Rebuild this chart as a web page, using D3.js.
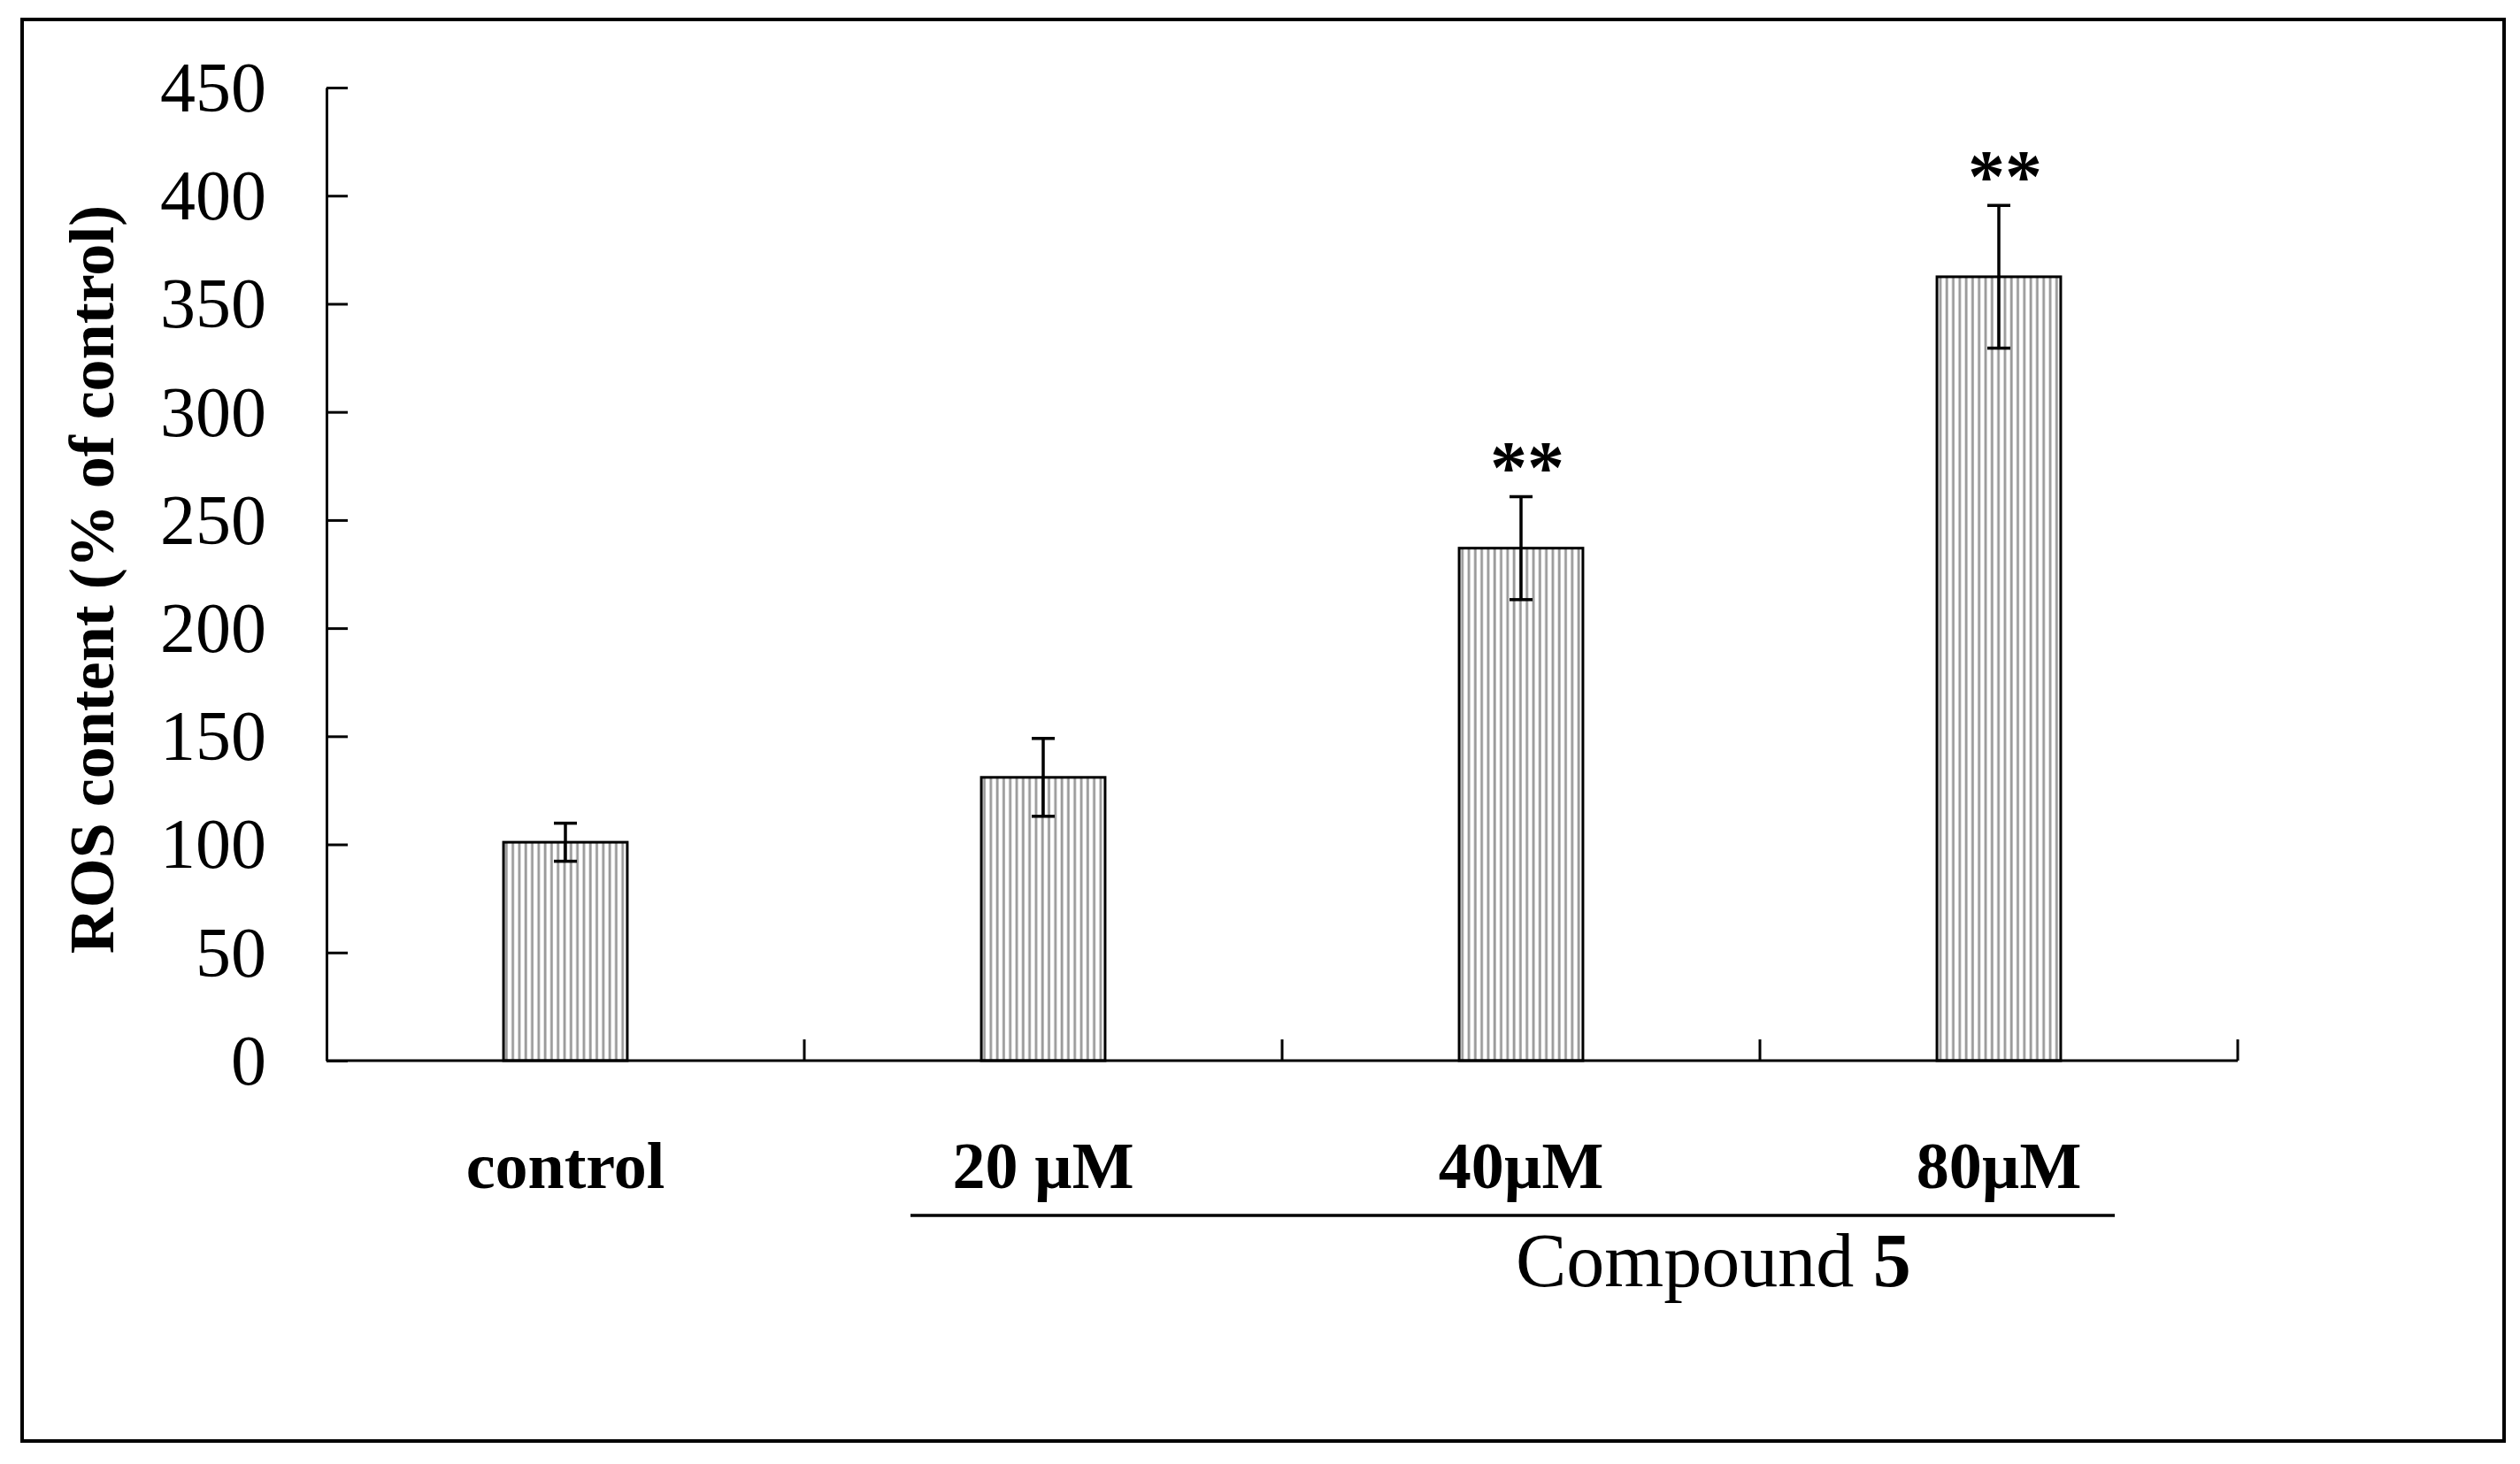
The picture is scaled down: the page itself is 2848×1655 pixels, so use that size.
<!DOCTYPE html>
<html>
<head>
<meta charset="utf-8">
<script src="https://cdn.jsdelivr.net/npm/d3@7"></script>
<style>
  html, body { margin: 0; padding: 0; background: #fff; }
  svg { display: block; }
</style>
</head>
<body>
<script>
// ---- data ----
const categories = ["control", "20 µM", "40µM", "80µM"];
const means      = [101, 131, 237, 362.5];
const errors     = [8.8, 18, 23.8, 33];
const signif     = ["", "", "**", "**"];
const yTicks     = [0, 50, 100, 150, 200, 250, 300, 350, 400, 450];
const yTitle     = "ROS content (% of control)";
const groupLabel = "Compound ";
const groupBold  = "5";
const groupFrom  = "20 µM";
const groupTo    = "80µM";

const W = 2848, H = 1655;
const svg = d3.select("body").append("svg").attr("width", W).attr("height", H);
svg.append("rect").attr("width", W).attr("height", H).attr("fill", "#fff");

// outer frame
svg.append("rect").attr("x", 25).attr("y", 22).attr("width", 2805).attr("height", 1607)
  .attr("fill", "none").attr("stroke", "#000").attr("stroke-width", 4);

// hatch pattern
const defs = svg.append("defs");
const pat = defs.append("pattern").attr("id", "vhatch").attr("patternUnits", "userSpaceOnUse")
  .attr("width", 7.3).attr("height", 10);
pat.append("rect").attr("width", 7.3).attr("height", 10).attr("fill", "#fff");
pat.append("rect").attr("x", 1.5).attr("width", 2.8).attr("height", 10).attr("fill", "#999");

const x0 = 369, x1 = 2529, yTop = 99, yBot = 1199;
const x = d3.scaleBand().domain(categories).range([x0, x1]).padding(0);
const y = d3.scaleLinear().domain([0, 450]).range([yBot, yTop]);
const barW = x.bandwidth() * 0.259;

// y axis
const yAxis = d3.axisLeft(y).tickValues(yTicks).tickSizeInner(-24).tickSizeOuter(0).tickPadding(68);
const gy = svg.append("g").attr("transform", `translate(${x0},0)`).call(yAxis);
gy.select(".domain").attr("stroke", "#000").attr("stroke-width", 3);
gy.selectAll(".tick line").attr("stroke", "#000").attr("stroke-width", 3);
gy.selectAll(".tick text")
  .attr("font-family", "'Liberation Serif', 'Times New Roman', serif")
  .attr("font-size", 80).attr("fill", "#000").attr("dy", "0.33em");

// bars
const data = categories.map((c, i) => ({ c, m: means[i], e: errors[i], s: signif[i] }));
svg.append("g").selectAll("rect").data(data).join("rect")
  .attr("x", d => x(d.c) + x.bandwidth() / 2 - barW / 2)
  .attr("y", d => y(d.m))
  .attr("width", barW)
  .attr("height", d => y(0) - y(d.m))
  .attr("fill", "url(#vhatch)")
  .attr("stroke", "#000").attr("stroke-width", 3);

// x axis line + boundary ticks (inward)
const xb = svg.append("g");
xb.append("line").attr("x1", x0).attr("x2", x1).attr("y1", y(0)).attr("y2", y(0))
  .attr("stroke", "#000").attr("stroke-width", 3);
const bounds = categories.slice(1).map(c => x(c)).concat([x.range()[1]]);
xb.selectAll("line.tk").data(bounds).join("line").attr("class", "tk")
  .attr("x1", d => d).attr("x2", d => d)
  .attr("y1", y(0)).attr("y2", y(0) - 24)
  .attr("stroke", "#000").attr("stroke-width", 3);

// error bars
const eg = svg.append("g").attr("stroke", "#000").attr("stroke-width", 3.5);
data.forEach(d => {
  const cx = x(d.c) + x.bandwidth() / 2;
  eg.append("line").attr("x1", cx).attr("x2", cx).attr("y1", y(d.m + d.e)).attr("y2", y(d.m - d.e));
  eg.append("line").attr("x1", cx - 13).attr("x2", cx + 13).attr("y1", y(d.m + d.e)).attr("y2", y(d.m + d.e));
  eg.append("line").attr("x1", cx - 13).attr("x2", cx + 13).attr("y1", y(d.m - d.e)).attr("y2", y(d.m - d.e));
});

// significance stars
svg.append("g").selectAll("text").data(data.filter(d => d.s)).join("text")
  .attr("x", d => x(d.c) + x.bandwidth() / 2 + 7)
  .attr("y", d => y(d.m + d.e) - 4)
  .attr("text-anchor", "middle")
  .attr("font-family", "'Liberation Serif', 'Times New Roman', serif")
  .attr("font-weight", "bold")
  .attr("font-size", 84).attr("fill", "#000")
  .text(d => d.s);

// category labels
svg.append("g").selectAll("text").data(categories).join("text")
  .attr("x", d => x(d) + x.bandwidth() / 2)
  .attr("y", 1343)
  .attr("text-anchor", "middle")
  .attr("font-family", "'Liberation Serif', 'Times New Roman', serif")
  .attr("font-weight", "bold")
  .attr("font-size", 74).attr("fill", "#000")
  .text(d => d);

// group line under compound labels
svg.append("line")
  .attr("x1", x(groupFrom) + x.bandwidth() / 2 - 150)
  .attr("x2", x(groupTo) + x.bandwidth() / 2 + 131)
  .attr("y1", 1374).attr("y2", 1374)
  .attr("stroke", "#000").attr("stroke-width", 3.5);

const gt = svg.append("text").attr("x", 1713).attr("y", 1454)
  .attr("font-family", "'Liberation Serif', 'Times New Roman', serif")
  .attr("font-size", 86).attr("fill", "#000");
gt.append("tspan").text(groupLabel);
gt.append("tspan").attr("font-weight", "bold").text(groupBold);

// y title
svg.append("text")
  .attr("transform", "translate(128,655) rotate(-90)")
  .attr("text-anchor", "middle")
  .attr("font-family", "'Liberation Serif', 'Times New Roman', serif")
  .attr("font-weight", "bold")
  .attr("font-size", 72).attr("fill", "#000")
  .text(yTitle);
</script>
</body>
</html>
